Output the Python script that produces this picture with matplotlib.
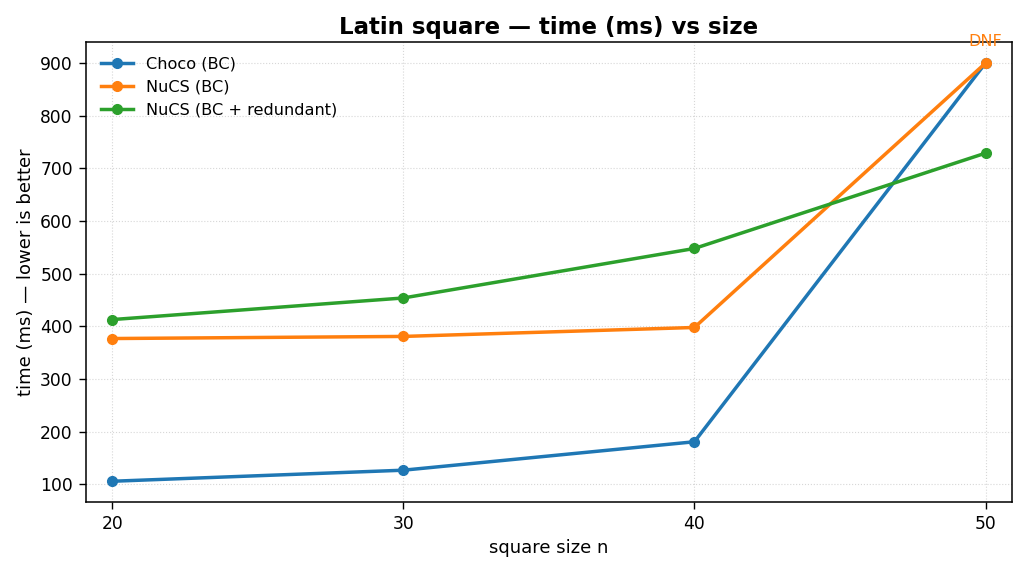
import matplotlib
matplotlib.use("Agg")
import matplotlib.pyplot as plt

sizes = [20, 30, 40, 50]
choco = [106, 127, 181, 900]
nucs_bc = [377, 381, 398, 900]
nucs_red = [413, 454, 548, 729]
series_labels = ["Choco (BC)", "NuCS (BC)", "NuCS (BC + redundant)"]
colors = ["#1f77b4", "#ff7f0e", "#2ca02c"]

fig, ax = plt.subplots(figsize=(10.24, 5.7), dpi=100)
for vals, lab, c in zip([choco, nucs_bc, nucs_red], series_labels, colors):
    ax.plot(sizes, vals, marker="o", lw=2.5, ms=7, color=c, label=lab)

ax.annotate("DNF", (sizes[-1], nucs_bc[-1]), xytext=(0, 10), textcoords="offset points",
            ha="center", va="bottom", color=colors[1], fontsize=11.5)

ax.set_xticks(sizes)
ax.margins(x=0.03)
ax.tick_params(labelsize=12.3, length=5, pad=4.5, width=1)
for s in ax.spines.values():
    s.set_linewidth(1.1)
ax.set_title("Latin square — time (ms) vs size", fontsize=16.5, fontweight="bold")
ax.set_xlabel("square size n", fontsize=13)
ax.set_ylabel("time (ms) — lower is better", fontsize=13)
ax.grid(True, linestyle=":", alpha=0.5)
ax.legend(loc="upper left", frameon=False, fontsize=11.6)
fig.subplots_adjust(left=0.084, right=0.988, top=0.926, bottom=0.119)
fig.savefig("out.png", dpi=100)
